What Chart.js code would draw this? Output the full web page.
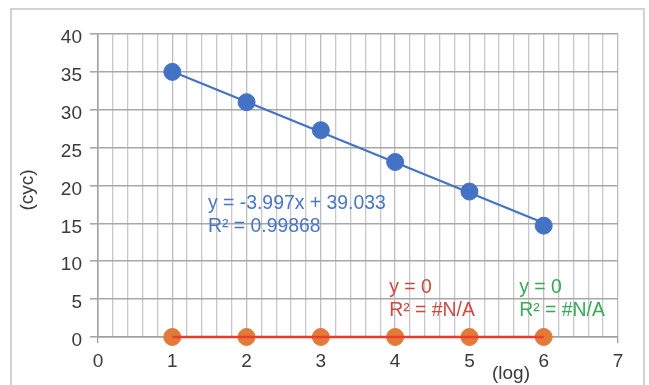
<!DOCTYPE html>
<html>
<head>
<meta charset="utf-8">
<script src="https://cdn.jsdelivr.net/npm/chart.js@4"></script>
<style>
  html, body { margin: 0; padding: 0; background: #fff; }
  #wrap { width: 649px; height: 385px; position: relative; }
</style>
</head>
<body>
<div id="wrap"><canvas id="chart" width="649" height="385"></canvas></div>
<script>
// datos
const xLog = [1, 2, 3, 4, 5, 6];
const cycBlue = [35.0, 31.0, 27.3, 23.1, 19.2, 14.7];
const cycOrange = [0, 0, 0, 0, 0, 0];

// líneas de tendencia (extremos en x = 1 y x = 6)
const trendX = [1, 6];
const trendBlue = [35.04, 15.05];
const trendRed = [0, 0];

// textos de las ecuaciones
const eqBlue = ['y = -3.997x + 39.033', 'R² = 0.99868'];
const eqRed = ['y = 0', 'R² = #N/A'];
const eqGreen = ['y = 0', 'R² = #N/A'];

const FONT = '"Liberation Sans", Arial, sans-serif';

function toPoints(xs, ys) {
    return xs.map((x, i) => ({ x: x, y: ys[i] }));
}

function isWhole(v) {
    return Math.abs(v - Math.round(v)) < 1e-6;
}

// marco exterior, etiquetas de ecuación y títulos de ejes
const extras = {
    id: 'extras',
    beforeDraw(chart) {
        const ctx = chart.ctx;
        ctx.save();
        ctx.strokeStyle = '#d2d2d2';
        ctx.lineWidth = 2;
        ctx.strokeRect(11, 9, 633, 400);
        ctx.restore();
    },
    afterDraw(chart) {
        const ctx = chart.ctx;
        const xs = chart.scales.x;
        const ys = chart.scales.y;
        ctx.save();
        ctx.font = '19.4px ' + FONT;
        ctx.textBaseline = 'middle';
        ctx.textAlign = 'left';

        function block(lines, color, px, py) {
            ctx.fillStyle = color;
            lines.forEach((t, i) => ctx.fillText(t, px, py + i * 23));
        }
        block(eqBlue, '#4a76c6', xs.getPixelForValue(1.48), ys.getPixelForValue(17.6));
        block(eqRed, '#cc4a44', xs.getPixelForValue(3.92), ys.getPixelForValue(6.5));
        block(eqGreen, '#3aa957', xs.getPixelForValue(5.67), ys.getPixelForValue(6.5));

        // títulos de ejes
        ctx.fillStyle = '#3a3a3a';
        ctx.font = '19px ' + FONT;
        ctx.textAlign = 'center';
        ctx.textBaseline = 'alphabetic';
        ctx.fillText('(log)', 511, 379);
        ctx.translate(33, 190);
        ctx.rotate(-Math.PI / 2);
        ctx.fillText('(cyc)', 0, 0);
        ctx.restore();
    }
};

const ctx = document.getElementById('chart').getContext('2d');
new Chart(ctx, {
    type: 'scatter',
    data: {
        datasets: [
            {
                label: 'trend blue',
                type: 'line',
                data: toPoints(trendX, trendBlue),
                borderColor: '#4472C4',
                borderWidth: 2.2,
                pointRadius: 0,
                fill: false,
                order: 0
            },
            {
                label: 'trend red',
                type: 'line',
                data: toPoints(trendX, trendRed),
                borderColor: '#EE3B2A',
                borderWidth: 2.5,
                pointRadius: 0,
                fill: false,
                order: 0
            },
            {
                label: 'cyc',
                data: toPoints(xLog, cycBlue),
                backgroundColor: '#4472C4',
                borderColor: '#4472C4',
                pointRadius: 8.5,
                order: 1
            },
            {
                label: 'cyc 2',
                data: toPoints(xLog, cycOrange),
                backgroundColor: '#E27B3A',
                borderColor: '#E27B3A',
                pointRadius: 8.5,
                order: 1
            }
        ]
    },
    options: {
        responsive: false,
        animation: false,
        clip: false,
        layout: { padding: { left: 0, right: 31, top: 34, bottom: 0 } },
        plugins: {
            legend: { display: false },
            tooltip: { enabled: false }
        },
        scales: {
            x: {
                type: 'linear',
                min: 0,
                max: 7,
                afterFit(scale) { scale.height = 48; },
                border: { color: '#a0a0a0', width: 1.5 },
                grid: {
                    color: c => isWhole(c.tick.value) ? '#bdbdbd' : '#c8c8c8',
                    lineWidth: 1.3,
                    tickLength: 6,
                    tickColor: c => isWhole(c.tick.value) ? '#a0a0a0' : 'rgba(0,0,0,0)'
                },
                ticks: {
                    stepSize: 0.2,
                    autoSkip: false,
                    maxRotation: 0,
                    padding: 7,
                    color: '#3a3a3a',
                    font: { family: FONT, size: 19 },
                    callback: v => isWhole(v) ? String(Math.round(v)) : ''
                }
            },
            y: {
                min: 0,
                max: 40,
                afterFit(scale) { scale.width = 98; },
                border: { color: '#a0a0a0', width: 1.5 },
                grid: {
                    color: '#a8a8a8',
                    lineWidth: 1.6,
                    tickLength: 8,
                    tickColor: '#a8a8a8'
                },
                ticks: {
                    stepSize: 5,
                    padding: 8,
                    labelOffset: 4,
                    color: '#3a3a3a',
                    font: { family: FONT, size: 19 }
                }
            }
        }
    },
    plugins: [extras]
});
</script>
</body>
</html>
